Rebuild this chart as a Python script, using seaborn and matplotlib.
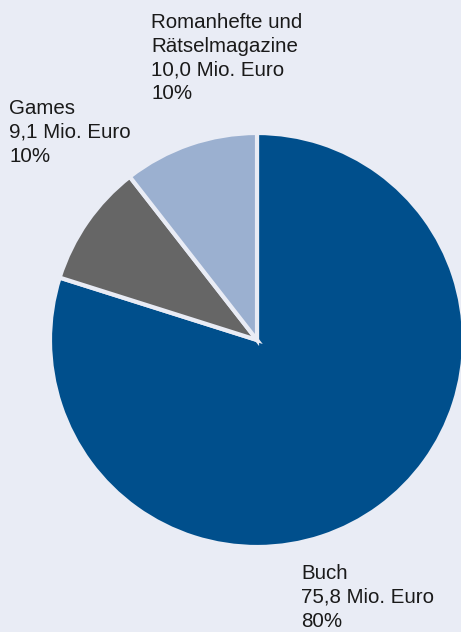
import matplotlib
matplotlib.use("Agg")
import matplotlib.pyplot as plt
import seaborn as sns

# data
categories = ["Buch", "Games", "Romanhefte und\nRätselmagazine"]
umsatz = [75.8, 9.1, 10.0]
umsatz_labels = ["75,8", "9,1", "10,0"]
anteile = ["80%", "10%", "10%"]
colors = ["#004f8c", "#666666", "#9bb0d0"]

bg = "#e9ecf5"

sns.set_theme(style="white")
plt.rcParams["font.family"] = ["Liberation Sans", "DejaVu Sans"]

W, H = 461, 632
fig = plt.figure(figsize=(W / 100, H / 100), dpi=100, facecolor=bg)
ax = fig.add_axes([0, 0, 1, 1])
ax.set_facecolor(bg)

# pie centre/radius in pixels
cx, cy, r = 257, 340, 207
ax.pie(umsatz, colors=colors, startangle=90, counterclock=False, radius=1,
       wedgeprops=dict(edgecolor=bg, linewidth=3))
ax.set_xlim(-cx / r, (W - cx) / r)
ax.set_ylim(-(H - cy) / r, cy / r)
ax.set_aspect("equal")
ax.axis("off")

# label positions (pixels, top-left)
label_pos = [(301, 564), (9, 99), (151, 13)]
for cat, val, pct, (px, py) in zip(categories, umsatz_labels, anteile, label_pos):
    txt = f"{cat}\n{val} Mio. Euro\n{pct}"
    fig.text(px / W, 1 - py / H, txt, ha="left", va="top",
             fontsize=14.8, color="#1a1a1a", linespacing=1.32)

fig.savefig("out.png", dpi=100, facecolor=bg)
